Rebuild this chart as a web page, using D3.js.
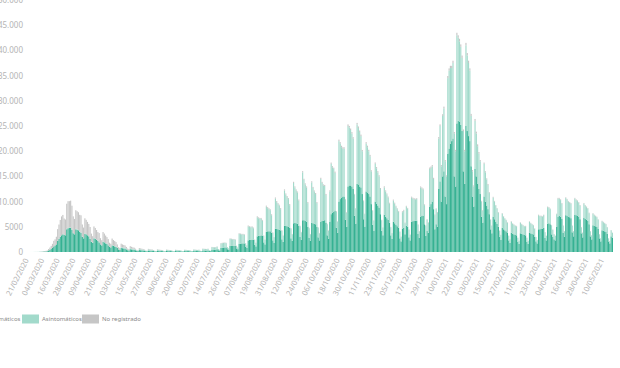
<!DOCTYPE html>
<html><head><meta charset="utf-8">
<script src="https://cdn.jsdelivr.net/npm/d3@7"></script>
<style>body{margin:0;background:#fff;overflow:hidden}svg{display:block}</style>
</head><body><svg id="c" width="620" height="368"></svg>
<script>
const startDate = "2020-02-21";
const seriesNames = ["Sintomáticos", "Asintomáticos", "No registrado"];
const sintomaticos = [
0,0,0,2,3,5,8, 10,12,15,25,35,50,70, 100,120,160,300,450,600,800, 1100,1300,1500,2200,2600,3000,3300,
3500,3400,3300,4500,4700,4800,4800, 4400,3700,3500,4500,4400,4300,4000, 3800,3000,2700,3600,3500,3300,3100,
2600,2000,1800,2700,2600,2400,2200, 1900,1500,1300,2000,1900,1700,1600, 1300,1000,900,1300,1200,1100,1000,
800,500,450,800,750,700,650, 500,350,300,550,500,450,420, 350,250,200,380,350,330,300, 250,180,150,280,260,240,230,
200,140,110,240,220,200,190, 180,120,100,220,200,190,180, 170,110,90,210,190,180,170, 170,110,90,210,200,190,180,
180,120,100,230,220,200,190, 220,140,110,300,290,280,280, 320,200,160,450,450,450,460, 550,350,280,800,850,880,900,
900,550,450,1200,1200,1200,1200, 1200,700,550,1600,1650,1700,1700, 1700,1000,800,2300,2400,2400,2450,
2400,1400,1100,3100,3200,3200,3300, 3200,1900,1500,4000,4100,4100,4100, 3800,2300,1800,4600,4600,4500,4400,
4300,2500,2000,5200,5200,5100,5000, 4800,2700,2200,5700,5800,5700,5600, 5200,3000,2400,6300,6300,6200,6000,
5000,2800,2200,5800,5700,5600,5500, 5000,2900,2300,6000,6200,6200,6300, 5800,3300,2600,6000,7500,7800,8000,
8200,4800,3800,10000,10500,10800,11000, 11000,6400,5000,13000,13200,13200,13000, 12500,7200,5600,13500,13400,13000,12800,
11500,6500,5000,12000,11800,11500,11000, 9500,5400,4200,10000,9600,9200,8800, 7500,4200,3300,7400,7000,6700,6400,
5800,3300,2600,6000,5700,5400,5100, 4800,2700,2100,4600,4800,3500,5200, 5000,2900,2300,6000,6100,6200,6200,
6200,3600,2800,7000,7200,7200,5500, 3200,4200,3800,9000,9500,10000,8500, 4500,5500,5000,12500,14000,10000,15000,
16000,11000,9500,19500,20500,21500,22000, 22500,15000,13000,25500,26000,25800,25200, 24000,16000,13500,25000,24000,23000,22000,
17000,11000,9000,16500,15000,13500,12500, 11500,7000,5800,11000,10000,9200,8500, 7500,4500,3700,7000,6500,6000,5600,
5000,3000,2400,4800,4500,4300,4100, 3800,2300,1800,3800,3600,3500,3400, 3300,2000,1600,3700,3600,3500,3400,
3300,2000,1600,3800,3700,3600,3500, 3000,2100,1700,4500,4500,4600,4600, 4800,2800,2300,5600,5700,5500,3500,
3000,2500,2300,5000,7000,7200,7000, 6600,3800,3000,7300,7200,7000,6900, 6700,3900,3100,7400,7300,7200,7000,
6500,3700,2900,6800,6600,6400,6200, 5500,3100,2500,5300,5200,5100,5000, 4600,2700,2100,4300,4200,4100,4000,
3600,2100,1700,3100,2800
];
const asintomaticos = [
0,0,0,0,0,0,0, 0,0,0,0,0,0,0, 5,5,5,10,10,15,20, 20,20,30,40,50,60,60,
60,50,50,80,80,90,90, 90,70,60,90,90,90,80, 80,60,50,80,80,70,70,
60,50,40,70,70,60,60, 60,40,40,60,60,60,60, 60,40,30,70,70,70,70,
100,50,50,150,150,150,150, 150,80,60,200,180,170,160, 150,80,60,200,180,170,160, 160,80,60,220,200,190,180,
150,70,50,220,200,180,170, 150,70,50,210,200,180,170, 140,60,50,200,190,170,160, 150,70,50,220,200,180,170,
170,80,60,250,230,210,200, 220,100,70,330,310,300,290, 300,140,100,500,480,470,470, 500,220,160,900,900,900,920,
850,380,280,1400,1350,1300,1300, 1200,500,350,2000,1900,1800,1800, 1700,700,500,2800,2600,2500,2500,
2300,1000,700,3800,3500,3400,3300, 3000,1300,900,5000,4600,4400,4200, 3500,1500,1100,6000,5300,5000,4800,
4200,1700,1200,7000,6200,5800,5500, 4500,1900,1300,8000,7000,6500,6200, 5000,2100,1500,9500,8000,7200,6800,
4700,1900,1300,8000,7000,6400,6000, 4700,1900,1400,8500,7500,7000,6800, 5500,2200,1600,6000,10000,9000,8500,
7500,3200,2200,12000,11000,10000,9500, 9500,4000,2800,12000,11500,11000,10500, 10000,4200,3000,11800,11200,10800,10200,
8500,3600,2500,9500,9000,8500,8000, 6500,2800,2000,7500,7000,6600,6200, 5000,2100,1500,5400,5000,4700,4400,
3800,1600,1100,4200,3900,3600,3400, 3200,1300,900,3300,3400,2200,3800, 3600,1500,1100,4800,4500,4300,4200,
4300,1800,1300,5800,5400,5200,3800, 2000,2200,2000,7500,7200,7000,6000, 2800,3000,2800,10000,11000,7000,12000,
12500,7000,5500,15000,15500,15000,14500, 15000,8500,7000,17500,16500,16000,15500, 14500,8000,6500,16000,15000,14500,14000,
10000,5000,4000,9500,8500,7500,7000, 6500,3000,2400,6500,5800,5200,4800, 4200,1900,1500,3800,3500,3200,3000,
2800,1200,950,2800,2500,2300,2200, 2000,900,700,2200,2000,1900,1800, 1800,800,600,2100,1900,1800,1700,
1800,800,600,2200,2000,1900,1800, 1600,850,650,2800,2600,2500,2400, 2500,1100,900,3300,3100,3000,1800,
1400,1000,900,2500,3600,3400,3300, 3000,1400,1100,3400,3200,3000,2900, 2900,1300,1000,3200,3000,2900,2800,
2700,1200,900,2800,2600,2500,2400, 2200,1000,800,2300,2100,2000,1900, 1800,800,600,1800,1700,1600,1500,
1300,600,450,1200,1000
];
const noRegistrado = [
0,0,0,1,2,3,5, 5,8,10,20,30,45,60, 90,110,150,280,420,600,800, 1100,1200,1500,2300,2800,3300,3700,
3800,3200,3100,5000,5300,5200,5300, 4700,3300,3000,3700,3600,3500,3300, 3400,2400,2100,3000,2800,2600,2400,
2300,1600,1300,2300,2100,1900,1700, 1800,1200,1000,1900,1700,1500,1300, 1200,800,700,1300,1100,1000,900,
600,400,300,700,600,550,500, 350,250,200,400,350,300,280, 150,100,80,200,180,150,140, 80,50,40,120,100,90,80,
50,30,20,80,70,60,50, 40,20,20,60,50,40,40, 30,20,10,50,40,40,30, 30,20,10,40,40,30,30,
30,20,10,40,40,30,30, 30,20,20,50,40,40,40, 40,20,20,60,60,50,50, 60,30,30,80,80,70,70,
80,40,40,100,100,90,90, 100,50,40,120,110,100,100, 120,60,50,150,140,130,130,
150,70,60,180,170,160,160, 170,80,70,200,190,180,170, 180,90,80,210,200,190,180,
200,100,80,220,210,200,190, 200,100,80,230,220,210,200, 210,100,90,240,230,220,210,
200,100,80,230,220,210,200, 200,100,80,230,220,210,210, 220,110,90,240,240,230,230,
250,120,100,300,290,280,270, 280,130,110,320,310,300,290, 280,130,110,320,310,300,290,
250,120,100,300,290,280,270, 220,100,90,260,250,240,230, 200,90,80,230,220,210,200,
170,80,70,200,190,180,170, 150,70,60,180,170,120,170, 150,70,60,180,180,170,170,
170,80,70,200,200,190,150, 100,100,100,250,250,250,220, 150,150,140,300,320,250,330,
350,250,200,420,430,440,440, 450,300,260,500,500,500,490, 480,320,270,500,480,460,440,
400,260,220,400,380,360,340, 250,150,120,240,220,210,200, 160,90,80,150,140,130,120,
120,70,60,110,100,100,90, 100,60,50,100,90,90,90, 90,50,40,90,90,80,80,
90,50,40,90,90,80,80, 90,50,40,100,100,100,100, 100,60,50,110,110,110,80,
70,60,50,100,140,140,140, 130,70,60,140,140,130,130, 130,70,60,140,140,140,130,
120,70,60,130,130,120,120, 100,60,50,110,110,100,100, 90,50,40,90,90,80,80,
70,40,30,60,50
];
const yTickValues = [0, 5000, 10000, 15000, 20000, 25000, 30000, 35000, 40000, 45000, 50000];
const xTickLabels = ["21/02/2020","04/03/2020","16/03/2020","28/03/2020","09/04/2020","21/04/2020","03/05/2020","15/05/2020","27/05/2020","08/06/2020","20/06/2020","02/07/2020","14/07/2020","26/07/2020","07/08/2020","19/08/2020","31/08/2020","12/09/2020","24/09/2020","06/10/2020","18/10/2020","30/10/2020","11/11/2020","23/11/2020","05/12/2020","17/12/2020","29/12/2020","10/01/2021","22/01/2021","03/02/2021","15/02/2021","27/02/2021","11/03/2021","23/03/2021","04/04/2021","16/04/2021","28/04/2021","10/05/2021"];
const colors = ["#35b192", "#a2dacb", "#c6c6c6"];

const n = sintomaticos.length;
const fmtDate = d3.timeFormat("%d/%m/%Y");
const start = d3.timeParse("%Y-%m-%d")(startDate);
const rows = d3.range(n).map(i => ({
  date: fmtDate(d3.timeDay.offset(start, i)),
  "Sintomáticos": sintomaticos[i],
  "Asintomáticos": asintomaticos[i] || 0,
  "No registrado": noRegistrado[i] || 0
}));

const svg = d3.select("#c");
const x = d3.scaleBand().domain(rows.map(r => r.date)).range([26, 613]).paddingInner(0.12);
const y = d3.scaleLinear().domain([0, 50000]).range([252, 0]);
const color = d3.scaleOrdinal().domain(seriesNames).range(colors);

const stacked = d3.stack().keys(seriesNames)(rows);
svg.append("g").selectAll("g").data(stacked).join("g")
  .attr("fill", s => color(s.key))
  .selectAll("rect").data(s => s).join("rect")
  .attr("x", d => x(d.data.date))
  .attr("width", x.bandwidth())
  .attr("y", d => y(d[1]))
  .attr("height", d => Math.max(0, y(d[0]) - y(d[1])));

const fmtY = v => v < 10000 ? String(v) : d3.format(",")(v).replace(/,/g, ".");
const yAxis = svg.append("g").attr("transform", "translate(23,0)")
  .call(d3.axisLeft(y).tickValues(yTickValues).tickFormat(fmtY).tickSize(0).tickPadding(0));
yAxis.select(".domain").remove();
yAxis.selectAll("text").attr("fill", "#b4b4b4").style("font-family", "'Noto Sans', sans-serif").style("font-size", "8px");

const xAxis = svg.append("g").attr("transform", "translate(0,259)")
  .call(d3.axisBottom(x).tickValues(xTickLabels).tickSize(0).tickPadding(0));
xAxis.select(".domain").remove();
xAxis.selectAll("text")
  .attr("fill", "#b4b4b4")
  .style("font-family", "'Noto Sans', sans-serif").style("font-size", "7.6px")
  .attr("text-anchor", "end")
  .attr("dy", "0.35em").attr("y", 0).attr("x", 0)
  .attr("transform", "rotate(-63)");

// legend
const legend = svg.append("g").attr("transform", "translate(0,319)");
const items = [
  {name: seriesNames[0], sx: -36, tx: -16},
  {name: seriesNames[1], sx: 22, tx: 42},
  {name: seriesNames[2], sx: 82, tx: 102}
];
items.forEach(it => {
  legend.append("rect").attr("x", it.sx).attr("y", -4.5).attr("width", 17).attr("height", 9).attr("fill", color(it.name));
  legend.append("text").attr("x", it.tx).attr("y", 0).attr("dy", "0.35em")
    .attr("fill", "#8a8a8a").style("font-family", "'Noto Sans', sans-serif").style("font-size", "6px").text(it.name);
});
</script></body></html>
